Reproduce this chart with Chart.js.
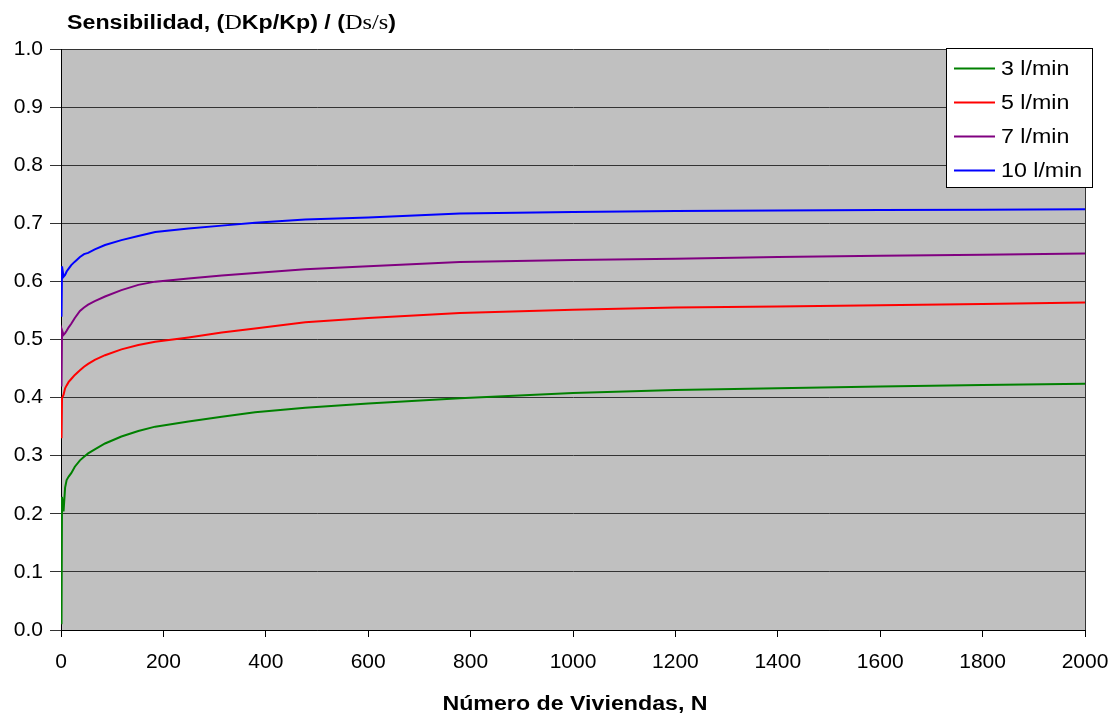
<!DOCTYPE html>
<html>
<head>
<meta charset="utf-8">
<script src="https://cdn.jsdelivr.net/npm/chart.js@4/dist/chart.umd.min.js"></script>
<style>
html,body{margin:0;padding:0;background:#fff;}
#wrap{width:1117px;height:717px;position:relative;}
</style>
</head>
<body>
<div id="wrap"><canvas id="c"></canvas></div>
<script>
// Número de viviendas (x)
const viviendas = [1, 2, 5, 8, 11, 15, 20, 27, 37, 45, 53, 66, 86, 118, 151, 184, 249, 314, 379, 477, 600, 779, 1000, 1200, 1400, 1600, 1800, 2000];
// Sensibilidad por caudal
const s3 = [0.010, 0.229, 0.204, 0.245, 0.258, 0.264, 0.270, 0.281, 0.292, 0.298, 0.304, 0.311, 0.321, 0.333, 0.3425, 0.350, 0.359, 0.367, 0.3747, 0.3826, 0.390, 0.399, 0.408, 0.413, 0.416, 0.419, 0.4215, 0.424];
const s5 = [0.330, 0.399, 0.405, 0.416, 0.421, 0.427, 0.432, 0.439, 0.447, 0.453, 0.458, 0.465, 0.473, 0.483, 0.4905, 0.496, 0.5036, 0.512, 0.519, 0.5295, 0.537, 0.5456, 0.551, 0.555, 0.557, 0.559, 0.561, 0.5635];
const s7 = [0.419, 0.516, 0.508, 0.511, 0.515, 0.521, 0.527, 0.537, 0.549, 0.555, 0.560, 0.566, 0.574, 0.585, 0.594, 0.5996, 0.605, 0.610, 0.6145, 0.621, 0.626, 0.6335, 0.637, 0.639, 0.642, 0.644, 0.646, 0.648];
const s10 = [0.539, 0.626, 0.608, 0.611, 0.617, 0.622, 0.628, 0.634, 0.642, 0.647, 0.649, 0.655, 0.6626, 0.671, 0.678, 0.685, 0.691, 0.696, 0.701, 0.7065, 0.710, 0.717, 0.7195, 0.721, 0.722, 0.723, 0.7235, 0.724];
const seriesNames = ['3 l/min', '5 l/min', '7 l/min', '10 l/min'];
const seriesColors = ['#008000', '#FF0000', '#800080', '#0000FF'];
const yTitleParts = [['Sensibilidad, (', 'b'], ['D', 's'], ['Kp/Kp) / (', 'b'], ['Ds/s', 's'], [')', 'b']];
const xTitle = 'Número de Viviendas, N';

const allSeries = [s3, s5, s7, s10];
const datasets = allSeries.map((vals, i) => ({
  label: seriesNames[i],
  data: viviendas.map((n, k) => ({x: n, y: vals[k]})),
  borderColor: seriesColors[i],
  backgroundColor: seriesColors[i],
  borderWidth: 2,
  pointRadius: 0,
  tension: 0,
  fill: false
}));

const SANS = '"Liberation Sans", Arial, sans-serif';
const SERIF = '"Liberation Serif", "Times New Roman", serif';
const SX = 1.16;

function stretchedText(ctx, text, x, y, align) {
  ctx.save();
  ctx.translate(x, y);
  ctx.scale(SX, 1);
  ctx.textAlign = align;
  ctx.fillText(text, 0, 0);
  ctx.restore();
}

const decor = {
  id: 'decor',
  beforeDraw(chart) {
    const {ctx, chartArea: a} = chart;
    ctx.save();
    ctx.fillStyle = '#fff';
    ctx.fillRect(0, 0, chart.width, chart.height);
    ctx.fillStyle = '#C0C0C0';
    ctx.fillRect(a.left, a.top, a.right - a.left, a.bottom - a.top);
    ctx.restore();
  },
  afterDraw(chart) {
    const {ctx, chartArea: a} = chart;
    ctx.save();
    ctx.strokeStyle = '#333';
    ctx.lineWidth = 1;
    ctx.beginPath();
    ctx.moveTo(a.right + 0.5, a.top);
    ctx.lineTo(a.right + 0.5, a.bottom);
    ctx.stroke();

    // y title
    let x = 67;
    const yb = 29;
    ctx.fillStyle = '#000';
    ctx.textBaseline = 'alphabetic';
    for (const [t, f] of yTitleParts) {
      ctx.font = f === 'b' ? 'bold 20px ' + SANS : '21px ' + SERIF;
      stretchedText(ctx, t, x, yb, 'left');
      x += ctx.measureText(t).width * SX;
    }
    // x title
    ctx.font = 'bold 20px ' + SANS;
    stretchedText(ctx, xTitle, 575, 710, 'center');

    // legend
    const lx = 946.5, ly = 48.5, lw = 146, lh = 139;
    ctx.fillStyle = '#fff';
    ctx.fillRect(lx, ly, lw, lh);
    ctx.strokeStyle = '#000';
    ctx.lineWidth = 1;
    ctx.strokeRect(lx, ly, lw, lh);
    ctx.font = '20px ' + SANS;
    ctx.textBaseline = 'middle';
    seriesNames.forEach((name, i) => {
      const cy = 68.5 + i * 34;
      ctx.strokeStyle = seriesColors[i];
      ctx.lineWidth = 2;
      ctx.beginPath();
      ctx.moveTo(954, cy);
      ctx.lineTo(995, cy);
      ctx.stroke();
      ctx.fillStyle = '#000';
      stretchedText(ctx, name, 1001, cy + 1, 'left');
    });
    ctx.restore();
  }
};

new Chart(document.getElementById('c'), {
  type: 'line',
  data: {datasets},
  options: {
    responsive: true,
    maintainAspectRatio: false,
    animation: false,
    layout: {padding: {top: 49, right: 32, left: 0, bottom: 0}},
    plugins: {legend: {display: false}, title: {display: false}, tooltip: {enabled: false}},
    scales: {
      x: {
        type: 'linear', min: 0, max: 2000,
        afterFit: s => { s.height = 87; s.paddingRight = 0; s.paddingLeft = 0; },
        ticks: {stepSize: 200, color: '#000', font: {family: SANS, size: 21}, padding: 13, maxRotation: 0, autoSkip: false, callback: v => String(v)},
        grid: {drawOnChartArea: false, drawTicks: true, tickLength: 7, color: '#000'},
        border: {color: '#000', width: 1}
      },
      y: {
        min: 0, max: 1,
        afterFit: s => { s.width = 61; s.paddingTop = 0; s.paddingBottom = 0; },
        ticks: {stepSize: 0.1, color: '#000', font: {family: SANS, size: 21}, padding: 7, callback: v => v.toFixed(1)},
        grid: {color: '#333', lineWidth: 1, tickLength: 11},
        border: {color: '#000', width: 1}
      }
    }
  },
  plugins: [decor]
});
</script>
</body>
</html>
